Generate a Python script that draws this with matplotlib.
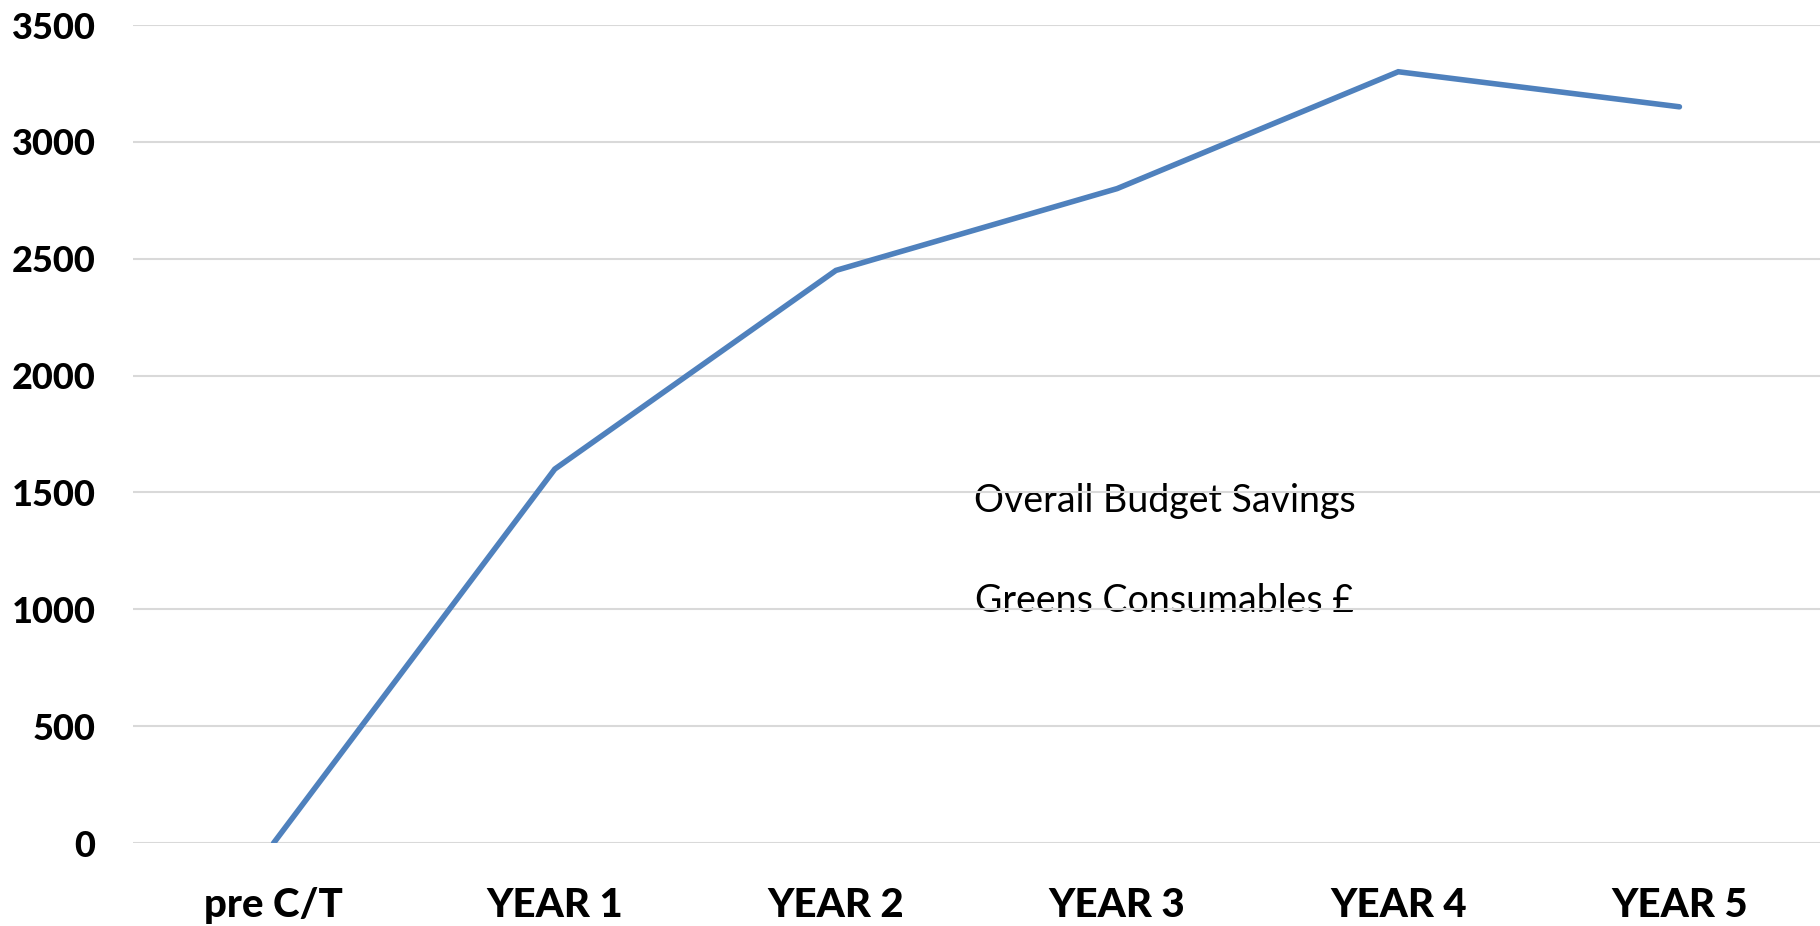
import matplotlib.pyplot as plt

# Data
periods = ["pre C/T", "YEAR 1", "YEAR 2", "YEAR 3", "YEAR 4", "YEAR 5"]
savings = [0, 1600, 2450, 2800, 3300, 3150]
y_ticks = [0, 500, 1000, 1500, 2000, 2500, 3000, 3500]
notes = ["Overall Budget Savings", "Greens Consumables £"]

plt.rcParams['font.family'] = ['Lato', 'DejaVu Sans']

fig = plt.figure(figsize=(18.2, 9.26), dpi=100)
ax = fig.add_axes([0.0731, 0.0896, 0.9269, 0.8834])

x = range(len(periods))
ax.plot(x, savings, color='#4F81BD', lw=4, solid_capstyle='round',
        solid_joinstyle='miter', zorder=3)

ax.set_xlim(-0.5, len(periods) - 0.5)
ax.set_ylim(0, 3500)
ax.set_yticks(y_ticks)
ax.set_xticks(list(x))
ax.set_xticklabels(periods)

ax.grid(axis='y', color='#D9D9D9', lw=1.5, zorder=2)
ax.set_axisbelow(False)
for s in ax.spines.values():
    s.set_visible(False)
ax.tick_params(length=0)
ax.tick_params(axis='y', pad=27, labelsize=26)
ax.tick_params(axis='x', pad=32, labelsize=29)
for lab in ax.get_xticklabels() + ax.get_yticklabels():
    lab.set_fontweight('black')

# Floating chart title texts, sitting under the gridlines as in the reference
ax.text(3.17, 1463, notes[0], ha='center', va='center', fontsize=27, zorder=1)
ax.text(3.17, 1035, notes[1], ha='center', va='center', fontsize=27, zorder=1)

fig.savefig('out.png', dpi=100)
